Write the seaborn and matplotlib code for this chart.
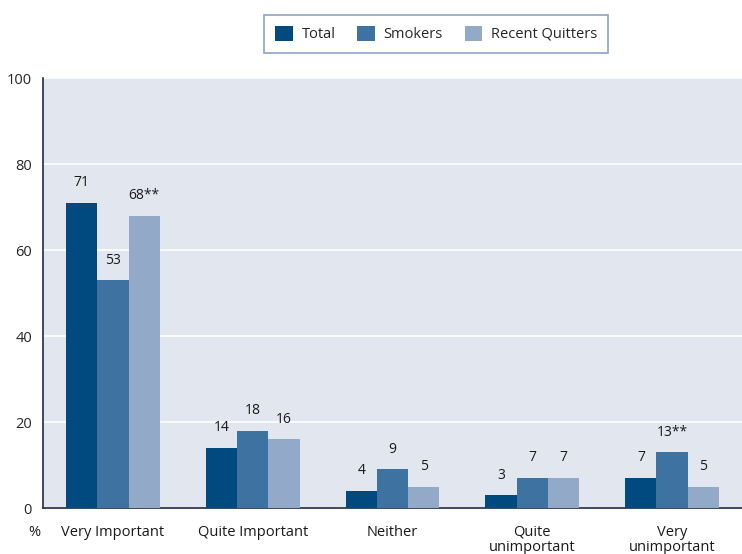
import matplotlib
matplotlib.use("Agg")
import matplotlib.pyplot as plt
import seaborn as sns
import pandas as pd
from matplotlib.patches import Patch

categories = ["Very Important", "Quite Important", "Neither", "Quite\nunimportant", "Very\nunimportant"]
series = ["Total", "Smokers", "Recent Quitters"]
total = [71, 14, 4, 3, 7]
smokers = [53, 18, 9, 7, 13]
recent_quitters = [68, 16, 5, 7, 5]
total_labels = ["71", "14", "4", "3", "7"]
smokers_labels = ["53", "18", "9", "7", "13**"]
quitters_labels = ["68**", "16", "5", "7", "5"]
y_ticks = [0, 20, 40, 60, 80, 100]

colors = ["#004a80", "#3e72a1", "#93a9c8"]
bg = "#e1e6ef"
spine = "#1e2b45"

rows = []
for vals, name in [(total, "Total"), (smokers, "Smokers"), (recent_quitters, "Recent Quitters")]:
    for c, v in zip(categories, vals):
        rows.append({"category": c, "series": name, "value": v})
df = pd.DataFrame(rows)

sns.set_style("white")
plt.rcParams["font.family"] = ["Open Sans", "DejaVu Sans"]

fig = plt.figure(figsize=(7.42, 5.54), dpi=100)
ax = fig.add_axes([0.058, 0.083, 0.942, 0.776])
ax.set_facecolor(bg)

sns.barplot(data=df, x="category", y="value", hue="series", order=categories,
            hue_order=series, palette=colors, width=0.67, saturation=1,
            linewidth=0, legend=False, ax=ax, zorder=3)

ax.set_ylim(0, 100)
ax.set_xlim(-0.5, len(categories) - 0.5)
ax.set_yticks(y_ticks)
ax.yaxis.grid(True, color="white", linewidth=1.2, zorder=0)
ax.set_axisbelow(True)

for s in ["top", "right"]:
    ax.spines[s].set_visible(False)
for s in ["left", "bottom"]:
    ax.spines[s].set_color(spine)
    ax.spines[s].set_linewidth(1.2)

ax.tick_params(axis="y", length=5, width=1.2, color=spine, labelsize=10.5, pad=3)
# category labels sit between boundary ticks
ax.set_xticks([i + 0.5 for i in range(len(categories) - 1)])
ax.set_xticklabels([])
ax.tick_params(axis="x", length=5, width=1, color=spine, direction="out")
for i, c in enumerate(categories):
    ax.text(i, -3.9, c, ha="center", va="top", fontsize=10.5, linespacing=1.0,
            color="#1a1a1a", transform=ax.transData, clip_on=False)
ax.text(-0.56, -3.9, "%", ha="center", va="top", fontsize=10.5, color="#1a1a1a", clip_on=False)
ax.set_xlabel("")
ax.set_ylabel("")

all_labels = [total_labels, smokers_labels, quitters_labels]
for container, labels in zip(ax.containers, all_labels):
    ax.bar_label(container, labels=labels, padding=9, fontsize=10, color="#1a1a1a")

handles = [Patch(facecolor=c, edgecolor="none") for c in colors]
leg = fig.legend(handles, series, loc="center", bbox_to_anchor=(0.588, 0.939), ncol=3,
                 frameon=True, fancybox=False, fontsize=10.5, handlelength=1.2,
                 handleheight=1.2, handletextpad=0.6, columnspacing=1.5,
                 borderpad=0.75, borderaxespad=0)
leg.get_frame().set_edgecolor("#6f8db0")
leg.get_frame().set_linewidth(1.2)

fig.savefig("out.png", dpi=100, facecolor="white")
